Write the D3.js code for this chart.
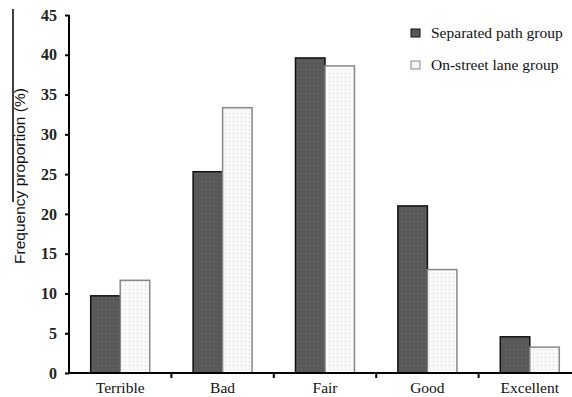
<!DOCTYPE html>
<html><head><meta charset="utf-8">
<script src="https://cdn.jsdelivr.net/npm/d3@7"></script>
<style>body{margin:0;background:#fff}svg{display:block}</style>
</head><body><svg id="c" width="572" height="397"></svg>
<script>
const categories = ["Terrible","Bad","Fair","Good","Excellent"];
const seriesNames = ["Separated path group","On-street lane group"];
const separated = [9.7, 25.3, 39.6, 21.0, 4.55];
const onStreet = [11.65, 33.35, 38.6, 13.0, 3.25];
const yTicks = [0,5,10,15,20,25,30,35,40,45];

const svg = d3.select("#c");
const defs = svg.append("defs");
const pd = defs.append("pattern").attr("id","pd").attr("width",4).attr("height",4).attr("patternUnits","userSpaceOnUse");
pd.append("rect").attr("width",4).attr("height",4).attr("fill","#585858");
pd.append("rect").attr("x",1).attr("y",1).attr("width",1).attr("height",1).attr("fill","#707070");
const pl = defs.append("pattern").attr("id","pl").attr("width",4).attr("height",4).attr("patternUnits","userSpaceOnUse");
pl.append("rect").attr("width",4).attr("height",4).attr("fill","#fafafa");
pl.append("rect").attr("x",1).attr("y",1).attr("width",1).attr("height",1).attr("fill","#cfcfcf");

const x0 = 69, y0 = 373, yTop = 15, band = 102.4;
const x = d3.scaleBand().domain(categories).range([x0, x0 + band*categories.length]).paddingInner(0).paddingOuter(0);
const y = d3.scaleLinear().domain([0,45]).range([y0, yTop]);
const xs = d3.scaleBand().domain([0,1]).range([0, x.bandwidth()]).paddingInner(0).paddingOuter(0.735);

const data = [separated, onStreet];
const fills = ["url(#pd)","url(#pl)"];
const strokes = ["#111","#888"];
categories.forEach((c,i)=>{
  [0,1].forEach(s=>{
    svg.append("rect")
      .attr("x", x(c)+xs(s)).attr("y", y(data[s][i]))
      .attr("width", xs.bandwidth()).attr("height", y0 - y(data[s][i]))
      .attr("fill", fills[s]).attr("stroke", strokes[s]).attr("stroke-width", 1.5);
  });
});

// y axis
const ya = svg.append("g").attr("transform",`translate(${x0},0)`)
  .call(d3.axisLeft(y).tickValues(yTicks).tickSize(4).tickPadding(8));
ya.select(".domain").attr("stroke","#000").attr("stroke-width",2).attr("d",`M0,${yTop}V${y0}`);
ya.selectAll(".tick line").attr("stroke","#000").attr("stroke-width",2);
ya.selectAll("text").attr("font-family","Liberation Serif").attr("font-weight","bold").attr("font-size",16).attr("fill","#222");

// x axis
const xa = svg.append("g").attr("transform",`translate(0,${y0})`)
  .call(d3.axisBottom(x).tickSize(0).tickPadding(9));
xa.select(".domain").attr("stroke","#000").attr("stroke-width",2).attr("d",`M${x0},0H572`);
xa.selectAll("text").attr("font-family","Liberation Serif").attr("font-size",15.5).attr("fill","#111");
categories.slice(1).forEach(c=>{
  xa.append("line").attr("x1",x(c)).attr("x2",x(c)).attr("y1",0).attr("y2",5).attr("stroke","#000").attr("stroke-width",2);
});

// y label
svg.append("text").attr("transform","translate(25,176) rotate(-90)")
  .attr("text-anchor","middle").attr("font-family","Liberation Sans").attr("font-size",15.5).attr("fill","#111")
  .text("Frequency  proportion (%)");
svg.append("line").attr("x1",13).attr("x2",13).attr("y1",9).attr("y2",202).attr("stroke","#000").attr("stroke-width",1.5);

// legend
const legFills = ["#585858","#f4f4f4"];
seriesNames.forEach((n,i)=>{
  const ly = 29 + i*32;
  svg.append("rect").attr("x",411).attr("y",ly).attr("width",9).attr("height",8)
    .attr("fill",legFills[i]).attr("stroke",strokes[i]).attr("stroke-width",1);
  svg.append("text").attr("x",431).attr("y",ly+9).attr("font-family","Liberation Serif")
    .attr("font-size",15.5).attr("fill","#111").text(n);
});
</script></body></html>
